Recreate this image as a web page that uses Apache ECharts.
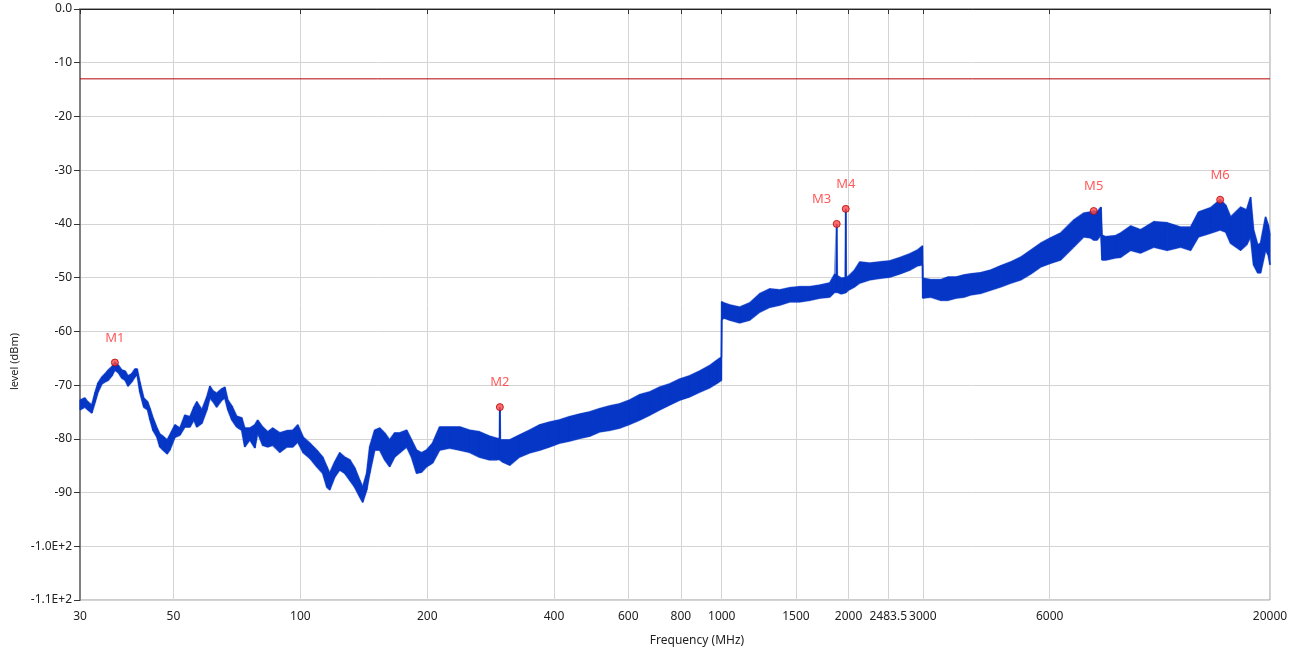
<!DOCTYPE html>
<html>
<head>
<meta charset="utf-8">
<script src="https://cdn.jsdelivr.net/npm/echarts@6/dist/echarts.min.js"></script>
<style>
html, body { margin: 0; padding: 0; background: #fff; }
#chart { width: 1299px; height: 653px; }
</style>
</head>
<body>
<div id="chart"></div>
<script>
// frequency points (MHz) and the top / bottom of the trace at each one (dBm)
var freq = [
  30, 30.8, 31.3, 32.0, 32.6, 33.1, 33.8, 34.4, 35.0, 35.7, 36.3, 37.0, 37.7, 38.4, 39.0, 39.8, 40.5, 41.0, 41.6, 42.5,
  43.4, 44.0, 44.7, 45.7, 46.4, 47.2, 48.3, 49.0, 50.4, 51.8, 53.2, 54.7, 55.9, 56.8, 58.4, 60.0, 61.0, 62.1, 63.3, 65.1,
  66.2, 67.3, 68.8, 70.6, 72.6, 73.8, 75.9, 78.0, 79.2, 81.4, 83.7, 86.0, 89.4, 92.9, 96.0, 98.6, 101.6, 105.3, 109.4, 113.0,
  115.6, 117.4, 120.7, 124.0, 127.4, 131.0, 134.6, 138.3, 140.6, 143.7, 146.1, 150.1, 154.3, 158.5, 162.9, 167.4, 172.1, 178.8, 183.6, 188.7,
  193.9, 199.3, 206, 214, 226, 239, 252, 266, 281, 292, 296.8, 297.5, 298.2, 302, 314, 331, 350, 370, 390, 412,
  435, 460, 486, 513, 542, 572, 604, 638, 674, 712, 752, 794, 838, 886, 935, 977, 998, 1000, 1011, 1045,
  1103, 1165, 1231, 1300, 1373, 1450, 1531, 1617, 1708, 1804, 1855, 1869, 1874, 1879, 1920, 1964, 1969, 1974, 2001, 2067,
  2125, 2244, 2370, 2503, 2644, 2792, 2910, 2995, 3000, 3133, 3309, 3440, 3596, 3760, 3898, 4117, 4348, 4592, 4850, 5122,
  5410, 5713, 6034, 6372, 6840, 7230, 7507, 7633, 7770, 7940, 7990, 8150, 8600, 8843, 9339, 9864, 10600, 11400, 12272, 12961,
  13530, 14457, 15233, 15700, 16126, 17031, 17600, 17987, 18280, 18700, 18997, 19520, 19810, 20000
];
var levelMax = [
  -72.8, -72.4, -73.1, -73.7, -71.3, -69.6, -68.5, -67.9, -67.2, -66.6, -65.7, -66.3, -67.2, -67.4, -68.3, -67.9, -67.0, -67.0, -69.4, -72.4,
  -73.1, -74.4, -76.1, -78.0, -79.1, -79.5, -80.2, -79.3, -77.4, -78.0, -75.6, -75.9, -74.1, -73.1, -74.6, -72.2, -70.2, -71.1, -71.5, -70.7,
  -70.4, -72.8, -73.9, -75.8, -76.1, -78.0, -78.0, -77.4, -76.5, -77.8, -78.7, -78.0, -78.9, -78.5, -78.4, -77.4, -79.7, -80.8, -82.1, -83.4,
  -85.2, -86.4, -84.3, -82.6, -83.4, -83.9, -85.4, -87.7, -89.0, -86.4, -81.5, -78.4, -78.0, -78.9, -80.2, -78.9, -78.9, -78.4, -80.2, -82.1,
  -82.6, -82.1, -80.8, -77.8, -77.8, -77.8, -78.4, -78.7, -79.5, -79.9, -80.0, -74.1, -80.2, -80.2, -80.2, -79.3, -78.4, -77.4, -76.9, -76.5,
  -75.9, -75.4, -75.0, -74.4, -73.9, -73.5, -72.8, -71.8, -71.3, -70.4, -69.8, -68.9, -68.3, -67.4, -66.4, -65.3, -64.8, -54.5, -54.7, -55.1,
  -55.5, -54.7, -53.0, -52.1, -52.3, -51.9, -51.7, -51.7, -51.4, -51.0, -49.3, -49.5, -40.0, -49.6, -50.1, -50.0, -37.2, -50.0, -49.7, -48.6,
  -47.1, -47.3, -47.1, -46.9, -46.3, -45.6, -44.9, -44.1, -50.1, -50.4, -50.4, -49.9, -49.9, -49.5, -49.3, -49.1, -48.6, -47.8, -47.1, -46.2,
  -44.9, -43.6, -42.6, -41.7, -39.3, -38.0, -37.8, -37.6, -37.8, -36.9, -42.1, -42.4, -42.2, -41.7, -40.4, -41.1, -39.6, -39.8, -40.6, -40.6,
  -37.8, -37.0, -35.5, -36.5, -38.7, -36.9, -37.4, -35.0, -41.1, -43.9, -43.6, -38.7, -40.2, -42.1
];
var levelMin = [
  -74.6, -74.1, -74.6, -75.2, -73.1, -71.3, -69.8, -69.4, -69.1, -68.3, -67.2, -67.7, -68.7, -69.1, -70.2, -69.4, -68.5, -68.1, -71.3, -74.1,
  -74.6, -76.5, -78.4, -79.7, -81.5, -82.1, -82.8, -82.1, -79.7, -79.3, -77.8, -77.8, -76.5, -77.8, -77.1, -74.6, -72.4, -73.1, -74.1, -72.8,
  -72.4, -74.6, -76.5, -77.8, -78.4, -81.5, -80.2, -81.7, -78.9, -81.2, -81.5, -81.2, -82.5, -81.5, -81.5, -80.6, -82.6, -83.6, -85.2, -86.4,
  -89.0, -89.5, -87.1, -85.8, -86.4, -87.7, -89.0, -90.8, -91.8, -89.5, -86.4, -82.1, -82.1, -83.9, -85.2, -83.4, -82.6, -81.5, -83.4, -86.4,
  -86.2, -85.2, -84.5, -82.1, -81.7, -82.1, -82.5, -83.4, -83.9, -83.9, -83.8, -83.8, -84.0, -84.3, -84.9, -83.4, -82.6, -82.1, -81.5, -80.8,
  -80.4, -79.9, -79.5, -78.7, -78.4, -78.0, -77.3, -76.5, -75.6, -74.6, -73.7, -72.8, -72.2, -71.3, -70.5, -69.6, -69.1, -57.9, -57.5, -57.9,
  -58.4, -57.9, -56.4, -55.5, -55.1, -54.5, -54.5, -54.2, -53.8, -53.6, -52.7, -52.7, -52.7, -52.7, -53.0, -52.8, -52.8, -52.7, -52.3, -51.7,
  -51.0, -50.4, -50.1, -49.9, -49.3, -48.6, -47.8, -47.6, -53.8, -53.6, -54.2, -54.2, -53.8, -53.6, -53.2, -52.9, -52.3, -51.7, -51.0, -50.4,
  -49.3, -48.0, -47.3, -46.7, -44.3, -42.4, -42.6, -43.0, -43.0, -42.1, -46.7, -46.7, -46.3, -46.2, -44.9, -45.4, -44.3, -44.9, -44.3, -44.9,
  -42.4, -41.7, -41.1, -41.5, -43.6, -44.9, -43.9, -42.4, -47.6, -49.1, -49.1, -44.9, -45.8, -47.6
];

var markerNames = ['M1', 'M2', 'M3', 'M4', 'M5', 'M6'];
var markerFreq = [36.3, 297.5, 1874, 1969, 7633, 15233];
var markerLevel = [-65.8, -74.1, -40.0, -37.2, -37.6, -35.5];

var freqTicks = [30, 50, 100, 200, 400, 600, 800, 1000, 1500, 2000, 2483.5, 3000, 6000, 20000];
var limitLevel = -13;

var traceColor = '#0636c6';
var font = 'Noto Sans';

var chart = echarts.init(document.getElementById('chart'));

// one quad per pair of neighbouring points: [f0, f1, max0, min0, max1, min1]
var bandData = [];
for (var i = 0; i < freq.length - 1; i++) {
  bandData.push([freq[i], freq[i + 1], levelMax[i], levelMin[i], levelMax[i + 1], levelMin[i + 1]]);
}
var maxData = freq.map(function (f, i) { return [f, levelMax[i]]; });
var minData = freq.map(function (f, i) { return [f, levelMin[i]]; });

function renderBand(params, api) {
  var a = api.coord([api.value(0), api.value(2)]);
  var b = api.coord([api.value(1), api.value(4)]);
  var c = api.coord([api.value(1), api.value(5)]);
  var d = api.coord([api.value(0), api.value(3)]);
  return {
    type: 'polygon',
    shape: { points: [a, b, c, d] },
    style: { fill: traceColor, stroke: traceColor, lineWidth: 1 }
  };
}

var markerData = markerNames.map(function (n, i) {
  var d = { name: n, value: [markerFreq[i], markerLevel[i]] };
  if (n === 'M3') d.label = { offset: [-15, 0] };
  return d;
});

function yLabel(v) {
  if (v === 0) return '0.0';
  if (v <= -100) return (v / 100).toFixed(1) + 'E+2';
  return String(v);
}

// soft fringe along both edges of the trace
function edgeSeries(name, data) {
  return {
    name: name,
    type: 'line',
    data: data,
    showSymbol: false,
    silent: true,
    lineStyle: { color: traceColor, width: 2, opacity: 0.5 },
    z: 1
  };
}

var option = {
  animation: false,
  grid: { left: 80, right: 29, top: 9, bottom: 53, show: true, borderColor: '#9a9a9a', borderWidth: 1 },
  xAxis: [{
    type: 'log',
    logBase: 10,
    min: 30,
    max: 20000,
    name: 'Frequency (MHz)',
    nameLocation: 'middle',
    nameGap: 35,
    nameTextStyle: { fontFamily: font, fontSize: 12, color: '#222', padding: [0, 0, 0, 44] },
    axisLine: { lineStyle: { color: '#a0a0a0', width: 2 } },
    axisTick: { show: true, length: 5, lineStyle: { color: '#333' }, customValues: freqTicks },
    axisLabel: { fontFamily: font, fontSize: 12, color: '#222', margin: 11, customValues: freqTicks,
      formatter: function (v) { return String(Math.round(v * 10) / 10); } },
    splitLine: { show: true, lineStyle: { color: '#d4d4d4' } },
    minorTick: { show: false }
  }, {
    type: 'log',
    logBase: 10,
    min: 30,
    max: 20000,
    position: 'top',
    axisLine: { lineStyle: { color: '#222', width: 1 } },
    axisTick: { show: false },
    axisLabel: { show: false },
    splitLine: { show: false }
  }],
  yAxis: {
    type: 'value',
    min: -110,
    max: 0,
    interval: 10,
    name: 'level (dBm)',
    nameLocation: 'middle',
    nameGap: 52,
    nameTextStyle: { fontFamily: font, fontSize: 11, color: '#222', padding: [0, 114, 0, 0] },
    axisLine: { show: true, lineStyle: { color: '#808080', width: 2 } },
    axisTick: { show: true, length: 6, lineStyle: { color: '#333' } },
    axisLabel: { fontFamily: font, fontSize: 12, color: '#222', margin: 8, formatter: yLabel },
    splitLine: { show: true, lineStyle: { color: '#d4d4d4' } }
  },
  series: [{
    name: 'limit',
    type: 'line',
    data: [[freqTicks[0], limitLevel], [freqTicks[freqTicks.length - 1], limitLevel]],
    showSymbol: false,
    silent: true,
    lineStyle: { color: '#b40000', width: 1 },
    z: 3
  },
  edgeSeries('max', maxData),
  edgeSeries('min', minData),
  {
    name: 'trace',
    type: 'custom',
    data: bandData,
    encode: { x: [0, 1], y: [2, 3, 4, 5] },
    renderItem: renderBand,
    silent: true,
    z: 2
  }, {
    name: 'markers',
    type: 'scatter',
    data: markerData,
    symbol: 'circle',
    symbolSize: 7,
    itemStyle: { color: '#ff4a4a', borderColor: '#b00000', borderWidth: 1 },
    label: { show: true, position: 'top', distance: 14, formatter: '{b}', color: '#ff3030', fontFamily: font, fontSize: 13 },
    z: 5
  }]
};

chart.setOption(option);
</script>
</body>
</html>
